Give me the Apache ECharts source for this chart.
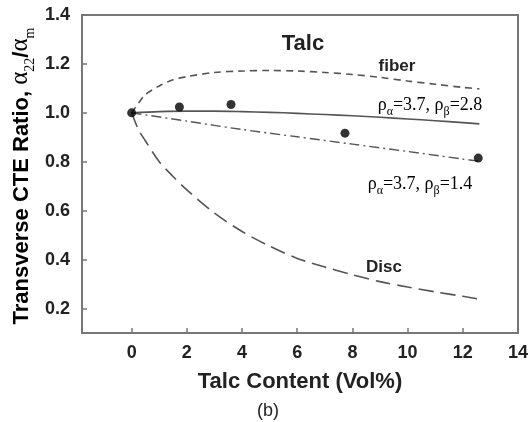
<!DOCTYPE html>
<html>
<head>
<meta charset="utf-8">
<script src="https://cdn.jsdelivr.net/npm/echarts@6/dist/echarts.min.js"></script>
<style>html,body{margin:0;padding:0;background:#fff;}#c{width:531px;height:422px;}</style>
</head>
<body>
<div id="c"></div>
<script>
// ---- data ----
var xTicks = [0, 2, 4, 6, 8, 10, 12, 14];
var yTicks = [0.2, 0.4, 0.6, 0.8, 1.0, 1.2, 1.4];

var measuredX = [0, 1.73, 3.6, 7.73, 12.56];
var measuredY = [1.0, 1.024, 1.034, 0.917, 0.815];

var fiberX = [0, 0.25, 0.5, 1, 1.5, 2, 3, 4, 5, 6, 7, 8, 9, 10, 11, 12, 12.6];
var fiberY = [1.0, 1.04, 1.075, 1.11, 1.135, 1.148, 1.165, 1.171, 1.173, 1.171, 1.165, 1.157, 1.145, 1.13, 1.117, 1.104, 1.098];

var rho28X = [0, 1, 2, 3, 4, 5, 6, 7, 8, 9, 10, 11, 12, 12.6];
var rho28Y = [1.0, 1.005, 1.007, 1.007, 1.005, 1.002, 0.998, 0.993, 0.988, 0.982, 0.975, 0.968, 0.96, 0.955];

var rho14X = [0, 2, 4, 6, 8, 10, 12, 12.6];
var rho14Y = [1.0, 0.966, 0.932, 0.902, 0.872, 0.842, 0.811, 0.802];

var discX = [0, 0.25, 0.5, 1, 1.5, 2, 3, 4, 5, 6, 7, 8, 9, 10, 11, 12, 12.6];
var discY = [1.0, 0.93, 0.885, 0.8, 0.74, 0.685, 0.59, 0.515, 0.455, 0.405, 0.37, 0.338, 0.31, 0.288, 0.268, 0.25, 0.238];

function pairs(xs, ys) { return xs.map(function (x, i) { return [x, ys[i]]; }); }

var chart = echarts.init(document.getElementById('c'), null, {renderer: 'canvas'});
var sans = 'Liberation Sans';
var serif = 'Liberation Serif';
var lineCol = '#555';

function rhoRich(txt) {
  return {
    text: txt,
    rich: {
      n: {fontFamily: serif, fontSize: 18, color: '#222', lineHeight: 20, verticalAlign: 'bottom'},
      s: {fontFamily: serif, fontSize: 12, color: '#222', lineHeight: 12, verticalAlign: 'bottom', padding: [0, 0, -4, 0]}
    }
  };
}

var option = {
  backgroundColor: '#fff',
  animation: false,
  grid: {left: 82, right: 12, top: 15, bottom: 89, show: true, borderColor: '#777', borderWidth: 2, backgroundColor: 'transparent'},
  xAxis: {
    type: 'value', min: -1.8, max: 14,
    axisLine: {show: true, onZero: false, lineStyle: {color: '#777', width: 2}},
    axisTick: {show: true, inside: true, length: 5, customValues: xTicks, lineStyle: {color: '#777', width: 1.5}},
    axisLabel: {customValues: xTicks, fontFamily: sans, fontWeight: 'bold', fontSize: 18, color: '#222', margin: 11},
    splitLine: {show: false}
  },
  yAxis: {
    type: 'value', min: 0.1, max: 1.4,
    axisLine: {show: true, onZero: false, lineStyle: {color: '#777', width: 2}},
    axisTick: {show: true, inside: true, length: 5, customValues: yTicks, lineStyle: {color: '#777', width: 1.5}},
    axisLabel: {customValues: yTicks, fontFamily: sans, fontWeight: 'bold', fontSize: 18, color: '#222', margin: 12,
      formatter: function (v) { return v.toFixed(1); }},
    splitLine: {show: false}
  },
  series: [
    {type: 'line', data: pairs(fiberX, fiberY), smooth: 0.3, symbol: 'none',
      lineStyle: {color: lineCol, width: 1.6, type: [7, 5]}},
    {type: 'line', data: pairs(rho28X, rho28Y), smooth: 0.3, symbol: 'none',
      lineStyle: {color: lineCol, width: 1.6, type: 'solid'}},
    {type: 'line', data: pairs(rho14X, rho14Y), smooth: 0.3, symbol: 'none',
      lineStyle: {color: lineCol, width: 1.4, type: [10, 4, 2, 4]}},
    {type: 'line', data: pairs(discX, discY), smooth: 0.3, symbol: 'none',
      lineStyle: {color: lineCol, width: 1.6, type: [15, 7]}},
    {type: 'scatter', data: pairs(measuredX, measuredY), symbol: 'circle', symbolSize: 9,
      itemStyle: {color: '#000'}, z: 5}
  ],
  graphic: [
    {type: 'text', x: 20, y: 176, rotation: Math.PI / 2,
      style: {
        text: '{b|Transverse CTE Ratio, }{a|α}{s|22}{b|/}{a|α}{s|m}',
        align: 'center', verticalAlign: 'middle',
        rich: {
          b: {fontFamily: sans, fontWeight: 'bold', fontSize: 22, color: '#222', lineHeight: 26, verticalAlign: 'bottom'},
          a: {fontFamily: serif, fontSize: 25, color: '#222', lineHeight: 26, verticalAlign: 'bottom'},
          s: {fontFamily: serif, fontSize: 14, color: '#222', lineHeight: 14, verticalAlign: 'bottom', padding: [0, 0, -4, 0]}
        }
      }},
    {type: 'text', x: 300, y: 382, style: {text: 'Talc Content (Vol%)', fontFamily: sans, fontWeight: 'bold', fontSize: 22, fill: '#222', align: 'center', verticalAlign: 'middle'}},
    {type: 'text', x: 268, y: 411, style: {text: '(b)', fontFamily: sans, fontSize: 18, fill: '#222', align: 'center', verticalAlign: 'middle'}},
    {type: 'text', x: 303, y: 44, style: {text: 'Talc', fontFamily: sans, fontWeight: 'bold', fontSize: 22, fill: '#222', align: 'center', verticalAlign: 'middle'}},
    {type: 'text', x: 397, y: 66, style: {text: 'fiber', fontFamily: sans, fontWeight: 'bold', fontSize: 17, fill: '#222', align: 'center', verticalAlign: 'middle'}},
    {type: 'text', x: 384, y: 267, style: {text: 'Disc', fontFamily: sans, fontWeight: 'bold', fontSize: 17, fill: '#222', align: 'center', verticalAlign: 'middle'}},
    {type: 'text', x: 430, y: 104, style: Object.assign({align: 'center', verticalAlign: 'middle'}, rhoRich('{n|ρ}{s|α}{n|=3.7, ρ}{s|β}{n|=2.8}'))},
    {type: 'text', x: 420, y: 183, style: Object.assign({align: 'center', verticalAlign: 'middle'}, rhoRich('{n|ρ}{s|α}{n|=3.7, ρ}{s|β}{n|=1.4}'))}
  ]
};
chart.setOption(option);
</script>
</body>
</html>
